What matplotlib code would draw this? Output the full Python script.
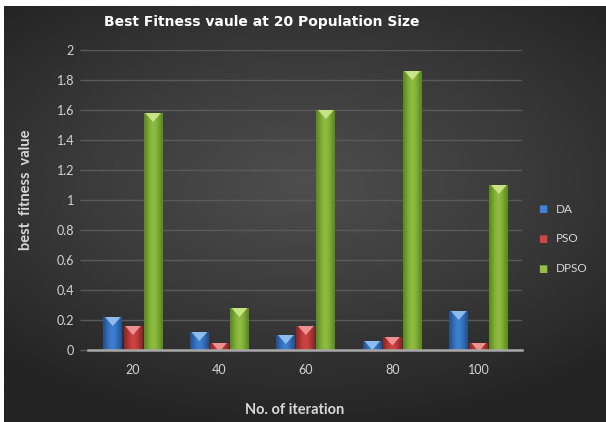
import numpy as np
import matplotlib
matplotlib.use('Agg')
import matplotlib.pyplot as plt
from matplotlib.colors import LinearSegmentedColormap
from matplotlib.patches import Polygon

iterations = ['20', '40', '60', '80', '100']
da = [0.22, 0.12, 0.10, 0.06, 0.26]
pso = [0.16, 0.05, 0.16, 0.09, 0.05]
dpso = [1.58, 0.28, 1.60, 1.86, 1.10]
series = ['DA', 'PSO', 'DPSO']

# (dark edge, body, highlight) for each series
shades = [
    ('#24528f', '#3f82d4', '#9cc8f4'),
    ('#8f2626', '#d04545', '#f4a0a0'),
    ('#5c8a22', '#92c043', '#d2ec94'),
]

fig = plt.figure(figsize=(6.06, 4.22), dpi=100)
fig.patch.set_facecolor('white')

# dark radial backdrop
bg = fig.add_axes([4 / 606, 0, 1 - 4 / 606, 1 - 6 / 422])
yy, xx = np.mgrid[-1:1:300j, -1:1:400j]
r = np.sqrt((xx * 0.9) ** 2 + ((yy + 0.15) * 1.1) ** 2)
bg_cmap = LinearSegmentedColormap.from_list('bg', ['#4e4e4e', '#3b3b3b', '#242424'])
bg.imshow(r, cmap=bg_cmap, aspect='auto', extent=[0, 1, 0, 1], vmin=0, vmax=1.3)
bg.axis('off')

ax = fig.add_axes([88 / 606, 1 - 350 / 422, (522 - 88) / 606, 300 / 422])
ax.patch.set_alpha(0)

x = np.arange(len(iterations))
w = 0.232
grad = np.array([[0.0, 0.5, 0.8, 1.0, 0.8, 0.5, 0.0]])

for i, (vals, (c0, c1, c2)) in enumerate(zip([da, pso, dpso], shades)):
    bars = ax.bar(x + (i - 1) * w, vals, width=w * 0.94, color=c1, label=series[i],
                  zorder=3, linewidth=0)
    cmap = LinearSegmentedColormap.from_list('b%d' % i, [c0, c1])
    for p in bars:
        bx, bw, bh = p.get_x(), p.get_width(), p.get_height()
        im = ax.imshow(grad, cmap=cmap, aspect='auto', extent=[bx, bx + bw, 0, bh],
                       zorder=4, vmin=0, vmax=1, interpolation='bicubic')
        im.set_clip_path(p)
        tri = Polygon([(bx + bw * 0.08, bh), (bx + bw * 0.92, bh), (bx + bw / 2, bh - 0.06)],
                      closed=True, facecolor=c2, edgecolor='none', alpha=0.85, zorder=5)
        ax.add_patch(tri)
        tri.set_clip_path(p)

ax.set_xlim(-0.52, 4.5)
ax.set_ylim(0, 2)
ax.set_yticks(np.arange(0, 2.01, 0.2))
ax.set_yticklabels(['0', '0.2', '0.4', '0.6', '0.8', '1', '1.2', '1.4', '1.6', '1.8', '2'])
ax.set_xticks(x)
ax.set_xticklabels(iterations)
ax.grid(axis='y', color='#5a5a5a', linewidth=1, zorder=0)
ax.tick_params(axis='y', colors='#5a5a5a', length=6, width=1, labelcolor='#d4d4d4',
               labelsize=9, pad=4)
ax.tick_params(axis='x', length=0, labelcolor='#d4d4d4', labelsize=9, pad=10)
for s in ['top', 'right', 'left']:
    ax.spines[s].set_visible(False)
ax.spines['bottom'].set_color('#a8a8a8')
ax.spines['bottom'].set_linewidth(1.8)
ax.spines['bottom'].set_zorder(6)
for lab in ax.get_xticklabels() + ax.get_yticklabels():
    lab.set_family('Lato')

fig.text(104 / 606, 1 - 22 / 422, 'Best Fitness vaule at 20 Population Size', color='white',
         fontsize=10, fontweight='bold', ha='left', va='center', family='DejaVu Sans')
fig.text(26 / 606, 1 - 190 / 422, 'best  fitness  value', color='#d8d8d8', fontsize=10.5,
         fontweight='bold', rotation=90, ha='center', va='center', family='Lato')
fig.text(295 / 606, 1 - 410 / 422, 'No. of iteration', color='#d8d8d8', fontsize=10.5,
         fontweight='bold', ha='center', va='center', family='Lato')

for i, name in enumerate(series):
    yy_ = 1 - (209 + 30 * i) / 422
    fig.text(543 / 606, yy_, '\u25a0', color=shades[i][1], fontsize=7, ha='center',
             va='center')
    fig.text(556 / 606, yy_, name, color='#d8d8d8', fontsize=8.5, ha='left', va='center',
             family='Lato')

fig.savefig('out.png', dpi=100, facecolor=fig.get_facecolor())
